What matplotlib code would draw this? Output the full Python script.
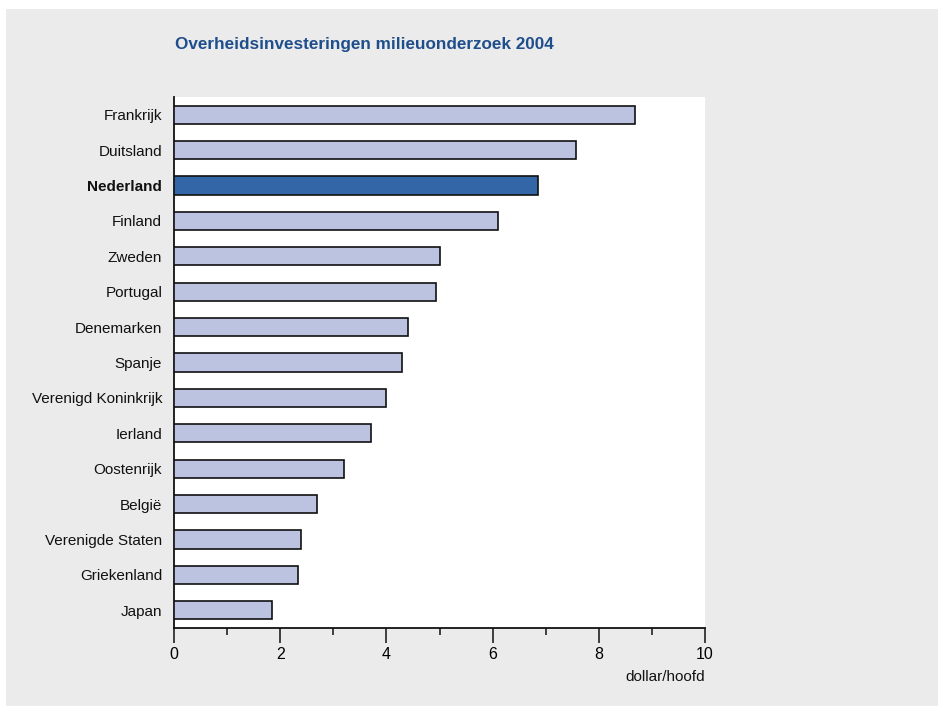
import matplotlib.pyplot as plt
from matplotlib.patches import Rectangle

plt.rcParams['font.family'] = ['Liberation Sans', 'DejaVu Sans']

# Overheidsinvesteringen in milieuonderzoek per land, 2004 (dollar per hoofd)
landen = ['Frankrijk', 'Duitsland', 'Nederland', 'Finland', 'Zweden', 'Portugal',
          'Denemarken', 'Spanje', 'Verenigd Koninkrijk', 'Ierland', 'Oostenrijk',
          'België', 'Verenigde Staten', 'Griekenland', 'Japan']
waarden = [8.68, 7.58, 6.85, 6.11, 5.01, 4.94, 4.41, 4.29, 3.99, 3.71, 3.21,
           2.69, 2.40, 2.33, 1.85]
accent = 'Nederland'

licht = '#bcc3e0'
donker = '#3366a6'

fig = plt.figure(figsize=(9.38, 7.07), dpi=100, facecolor='white')
fig.patches.append(Rectangle((6 / 938, 1 / 707), 1 - 6 / 938, 697 / 707,
                             transform=fig.transFigure, facecolor='#ebebeb',
                             edgecolor='none', zorder=-10))

ax = fig.add_axes([174 / 938, 1 - 628 / 707, 531 / 938, 531 / 707])
ax.set_facecolor('white')

posities = list(range(len(landen)))
kleuren = [donker if l == accent else licht for l in landen]
ax.barh(posities, waarden, height=0.51, color=kleuren, edgecolor='#111111',
        linewidth=1.2, zorder=3)

ax.set_ylim(len(landen) - 0.5, -0.5)
ax.set_xlim(0, 10)
ax.set_yticks(posities)
ax.set_yticklabels(landen, fontsize=11, color='#111111')
for lbl in ax.get_yticklabels():
    if lbl.get_text() == accent:
        lbl.set_fontweight('bold')
ax.tick_params(axis='y', length=0, pad=8.5)

ax.set_xticks(range(0, 11, 2))
ax.set_xticks(range(1, 10, 2), minor=True)
ax.tick_params(axis='x', which='major', length=11, width=1.1, direction='out',
               labelsize=11.5, pad=3, color='#111111')
ax.tick_params(axis='x', which='minor', length=5, width=1.1, direction='out',
               color='#111111')

for s in ['top', 'right']:
    ax.spines[s].set_visible(False)
for s in ['left', 'bottom']:
    ax.spines[s].set_linewidth(1.3)
    ax.spines[s].set_color('#111111')

fig.text(705 / 938, 1 - 677 / 707, 'dollar/hoofd', ha='right', va='center',
         fontsize=11, color='#111111')
fig.text(175 / 938, 1 - 45 / 707, 'Overheidsinvesteringen milieuonderzoek 2004',
         ha='left', va='center', fontsize=12.3, fontweight='bold', color='#1f4e8c')

fig.savefig('out.png', dpi=100, facecolor=fig.get_facecolor())
